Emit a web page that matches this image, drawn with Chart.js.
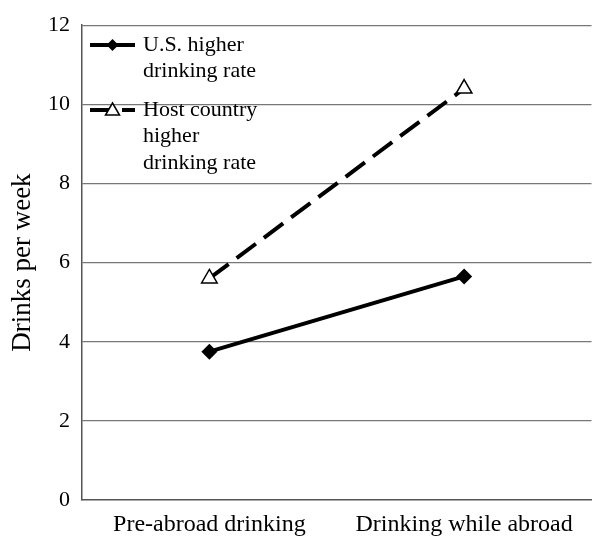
<!DOCTYPE html>
<html>
<head>
<meta charset="utf-8">
<script src="https://cdn.jsdelivr.net/npm/chart.js@4"></script>
<style>
  html, body { margin: 0; padding: 0; background: #fff; }
  #wrap { width: 602px; height: 551px; }
</style>
</head>
<body>
<div id="wrap"><canvas id="DrinkChart"></canvas></div>
<script>
// data
var categories = ['Pre-abroad drinking', 'Drinking while abroad'];
var usHigher = [3.75, 5.65];
var hostHigher = [5.6, 10.4];
var yTicks = [0, 2, 4, 6, 8, 10, 12];

var FONT = "'Liberation Serif', 'DejaVu Serif', serif";

// legend drawn inside the plot, top-left, like the original
var legendInside = {
  id: 'legendInside',
  afterDraw: function(chart) {
    var ctx = chart.ctx;
    var a = chart.chartArea;
    var x0 = a.left + 8, x1 = a.left + 53, tx = a.left + 61;
    var items = [
      { lines: ['U.S. higher', 'drinking rate'], y: 45, dash: [], marker: 'diamond' },
      { lines: ['Host country', 'higher', 'drinking rate'], y: 110, dash: [24, 8], marker: 'triangle' }
    ];
    ctx.save();
    items.forEach(function(it) {
      ctx.strokeStyle = '#000';
      ctx.lineWidth = 4;
      ctx.setLineDash(it.dash);
      ctx.beginPath();
      ctx.moveTo(x0, it.y);
      ctx.lineTo(x1, it.y);
      ctx.stroke();
      ctx.setLineDash([]);
      var mx = (x0 + x1) / 2;
      if (it.marker == 'diamond') {
        ctx.fillStyle = '#000';
        ctx.beginPath();
        ctx.moveTo(mx, it.y - 6); ctx.lineTo(mx + 6, it.y);
        ctx.lineTo(mx, it.y + 6); ctx.lineTo(mx - 6, it.y);
        ctx.closePath(); ctx.fill();
      } else {
        ctx.fillStyle = '#fff';
        ctx.lineWidth = 1.5;
        ctx.beginPath();
        ctx.moveTo(mx, it.y - 7); ctx.lineTo(mx + 7, it.y + 5);
        ctx.lineTo(mx - 7, it.y + 5);
        ctx.closePath(); ctx.fill(); ctx.stroke();
      }
      ctx.fillStyle = '#000';
      ctx.font = '22px ' + FONT;
      ctx.textAlign = 'left';
      ctx.textBaseline = 'middle';
      it.lines.forEach(function(s, i) {
        ctx.fillText(s, tx, it.y + i * 26.5);
      });
    });
    ctx.restore();
  }
};

var ctx = document.getElementById('DrinkChart').getContext('2d');
var myChart = new Chart(ctx, {
  type: 'line',
  data: {
    labels: categories,
    datasets: [{
      label: 'U.S. higher drinking rate',
      data: usHigher,
      borderColor: '#000',
      backgroundColor: '#000',
      borderWidth: 4,
      pointStyle: 'rectRot',
      pointRadius: 8,
      pointBorderWidth: 0,
      pointBackgroundColor: '#000',
      tension: 0
    }, {
      label: 'Host country higher drinking rate',
      data: hostHigher,
      borderColor: '#000',
      borderWidth: 4,
      borderDash: [24, 10],
      pointStyle: 'triangle',
      pointRadius: 9,
      pointBorderWidth: 1.5,
      pointBorderColor: '#000',
      pointBackgroundColor: '#fff',
      tension: 0
    }]
  },
  options: {
    responsive: true,
    maintainAspectRatio: false,
    animation: false,
    layout: { padding: { top: 17, right: 9, left: 0, bottom: 0 } },
    plugins: {
      legend: { display: false },
      tooltip: { enabled: false }
    },
    scales: {
      x: {
        offset: true,
        grid: { display: false, drawTicks: false },
        border: { display: true, color: '#555', width: 1.5 },
        ticks: { color: '#000', font: { family: FONT, size: 24 }, padding: 10, maxRotation: 0 },
        afterFit: function(s) { s.height = 51; }
      },
      y: {
        min: 0,
        max: 12,
        afterBuildTicks: function(s) { s.ticks = yTicks.map(function(v) { return { value: v }; }); },
        grid: {
          color: function(c) { return c.tick.value === 0 ? 'rgba(0,0,0,0)' : '#777'; },
          lineWidth: 1.2,
          drawTicks: false
        },
        border: { display: true, color: '#555', width: 1.5 },
        ticks: { color: '#000', font: { family: FONT, size: 22 }, padding: 12 },
        title: {
          display: true,
          text: 'Drinks per week',
          color: '#000',
          font: { family: FONT, size: 27 },
          padding: { top: 7, bottom: 0 }
        },
        afterFit: function(s) { s.width = 82; }
      }
    }
  },
  plugins: [legendInside]
});
</script>
</body>
</html>
